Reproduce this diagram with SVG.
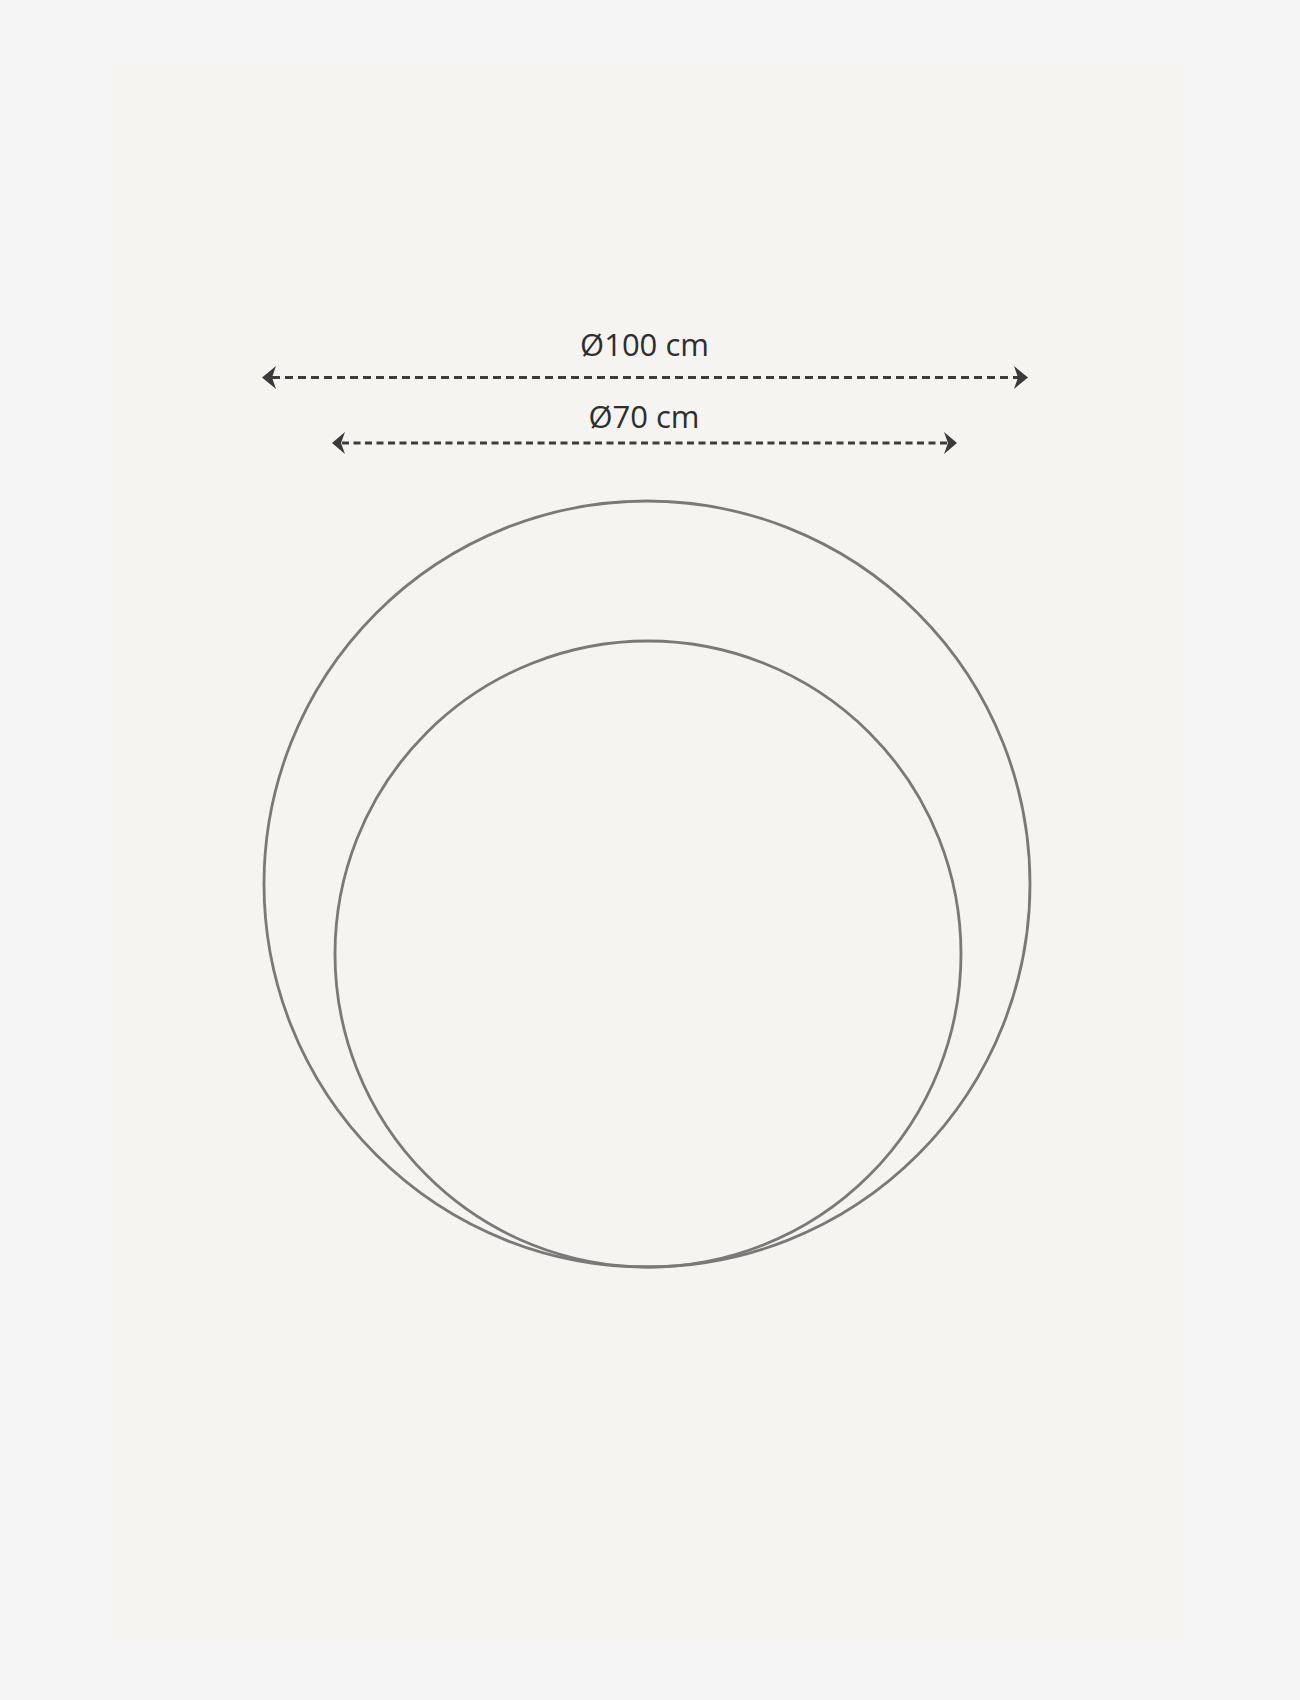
<svg xmlns="http://www.w3.org/2000/svg" width="1300" height="1700" viewBox="0 0 1300 1700">
<style>
.ring{fill:none;stroke:#797979;stroke-width:2.8}
.dim{fill:none;stroke:#3c3c3c;stroke-width:3.2}
.head{fill:#3a3a3a}
.lbl{font-family:"Open Sans","Noto Sans",sans-serif;font-size:31px;fill:#2e2e2e;text-anchor:middle}
</style>
<rect x="0" y="0" width="1300" height="1700" fill="#f5f5f5"/>
<rect x="112" y="63" width="1072" height="1577" fill="#f5f4f1"/>
<g id="outer-circle"><circle class="ring" cx="647" cy="884" r="383"/></g>
<g id="inner-circle"><circle class="ring" cx="648" cy="954" r="313"/></g>
<g id="connectors">
<g id="dim-100">
<line class="dim" x1="272" y1="377.5" x2="1018" y2="377.5" stroke-dasharray="8 5"/>
<path class="head" d="M262,377.5 L276,366 L272,377.5 L276,389 Z"/>
<path class="head" d="M1028,377.5 L1014,366 L1018,377.5 L1014,389 Z"/>
</g>
<g id="dim-70">
<line class="dim" x1="342" y1="443" x2="947" y2="443" stroke-dasharray="7 4.5"/>
<path class="head" d="M332,443 L345,432 L341,443 L345,454 Z"/>
<path class="head" d="M957,443 L944,432 L948,443 L944,454 Z"/>
</g>
</g>
<g id="label-100"><text class="lbl" x="644.5" y="356">Ø100 cm</text></g>
<g id="label-70"><text class="lbl" x="644" y="428">Ø70 cm</text></g>
</svg>
